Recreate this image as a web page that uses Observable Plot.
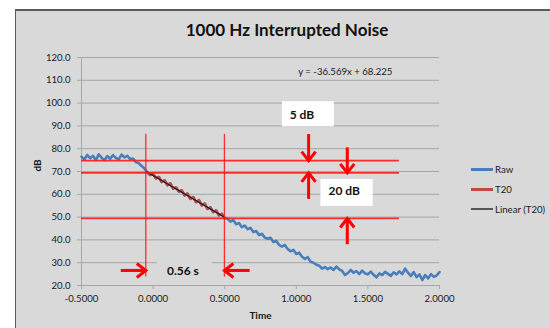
<!DOCTYPE html>
<html>
<head>
<meta charset="utf-8">
<script src="https://cdn.jsdelivr.net/npm/d3@7"></script>
<script src="https://cdn.jsdelivr.net/npm/@observablehq/plot@0.6"></script>
<style>
html, body { margin: 0; padding: 0; overflow: hidden; background: #fff; width: 550px; height: 328px; }
#wrap { position: relative; width: 550px; height: 328px; font-family: Lato, sans-serif; overflow: hidden; }
#bg { position: absolute; left: 15px; top: 9px; width: 620px; height: 400px; background: #d9d9d9; border-left: 1px solid #5a5a5a; border-top: 2px solid #5a5a5a; }
#title { position: absolute; left: 0; width: 574px; top: 19px; line-height: 22px; text-align: center; font-size: 17px; font-weight: 700; color: #111; }
#chart { position: absolute; left: 0; top: 0; }
.lg { position: absolute; left: 471px; height: 12px; display: flex; align-items: center; font-size: 9.6px; color: #1a1a1a; }
.lg .sw { display: inline-block; width: 22px; margin-right: 2px; }
</style>
</head>
<body>
<div id="wrap">
  <div id="bg"></div>
  <div id="title"></div>
  <div id="chart"></div>
  <div id="legend"></div>
</div>
<script>
// ---------- data ----------
const chartTitle = "1000 Hz Interrupted Noise";
const xLabel = "Time";
const yLabel = "dB";

const xTicks = [-0.5, 0, 0.5, 1, 1.5, 2];
const xTickLabels = ["-0.5000", "0.0000", "0.5000", "1.0000", "1.5000", "2.0000"];
const yTicks = [20, 30, 40, 50, 60, 70, 80, 90, 100, 110, 120];
const yTickLabels = ["20.0", "30.0", "40.0", "50.0", "60.0", "70.0", "80.0", "90.0", "100.0", "110.0", "120.0"];

const rawTime = [
  -0.50, -0.48, -0.46, -0.44, -0.42, -0.40, -0.38, -0.36, -0.34, -0.32,
  -0.30, -0.28, -0.26, -0.24, -0.22, -0.20, -0.18, -0.16, -0.14, -0.12,
  -0.10, -0.08, -0.06, -0.04, -0.02, 0.00, 0.02, 0.04, 0.06, 0.08,
  0.10, 0.12, 0.14, 0.16, 0.18, 0.20, 0.22, 0.24, 0.26, 0.28,
  0.30, 0.32, 0.34, 0.36, 0.38, 0.40, 0.42, 0.44, 0.46, 0.48,
  0.50, 0.52, 0.54, 0.56, 0.58, 0.60, 0.62, 0.64, 0.66, 0.68,
  0.70, 0.72, 0.74, 0.76, 0.78, 0.80, 0.82, 0.84, 0.86, 0.88,
  0.90, 0.92, 0.94, 0.96, 0.98, 1.00, 1.02, 1.04, 1.06, 1.08,
  1.10, 1.12, 1.14, 1.16, 1.18, 1.20, 1.22, 1.24, 1.26, 1.28,
  1.30, 1.32, 1.34, 1.36, 1.38, 1.40, 1.42, 1.44, 1.46, 1.48,
  1.50, 1.52, 1.54, 1.56, 1.58, 1.60, 1.62, 1.64, 1.66, 1.68,
  1.70, 1.72, 1.74, 1.76, 1.78, 1.80, 1.82, 1.84, 1.86, 1.88,
  1.90, 1.92, 1.94, 1.96, 1.98, 2.00
];
const rawDb = [
  76.5, 75.2, 77.3, 75.8, 76.9, 75.0, 77.5, 76.1, 74.9, 76.8,
  75.6, 77.2, 76.0, 75.3, 77.4, 76.2, 76.9, 75.4, 75.7, 74.1,
  73.6, 72.4, 71.3, 69.6, 68.5, 68.9, 67.0, 67.6, 65.4, 66.1,
  64.0, 64.8, 62.5, 63.0, 61.2, 61.7, 59.5, 60.3, 58.0, 58.8,
  56.6, 57.4, 55.1, 55.9, 53.6, 54.3, 52.2, 52.9, 50.8, 51.4,
  49.5, 49.3, 48.0, 48.7, 46.9, 47.4, 45.6, 46.3, 44.7, 45.3,
  43.4, 43.9, 42.1, 42.7, 41.0, 40.5, 40.9, 39.1, 39.6, 37.8,
  37.1, 37.8, 36.0, 35.0, 35.6, 33.8, 34.4, 32.6, 31.7, 32.4,
  30.4, 30.0, 29.1, 28.7, 27.4, 28.1, 27.2, 27.9, 26.8, 28.3,
  27.1, 26.4, 24.6, 25.4, 26.8, 25.6, 26.3, 25.0, 26.5, 25.3,
  24.9, 26.1, 24.7, 23.6, 25.3, 24.6, 26.0, 25.1, 24.2, 25.8,
  24.9, 26.2, 25.0, 27.4, 25.6, 24.2, 25.9, 23.7, 24.9, 22.4,
  24.6, 23.1, 25.0, 23.8, 24.4, 25.9
];

// T20 evaluation window and the fitted trendline
const t20Range = [-0.045, 0.505];
const linSlope = -36.569;
const linIntercept = 68.225;
const equationText = "y = -36.569x + 68.225";
const equationPos = [1.342, 113.7];

// Red reference lines (levels in dB, extent in s) and decay-time markers
const levelDb = [74.8, 69.4, 49.4];
const levelExtent = [-0.5, 1.72];
const markerTime = [-0.051, 0.498];
const markerExtent = [23.7, 86.3];

// Annotation arrows (tail x1,y1 -> tip x2,y2)
const arrowX1 = [1.086, 1.356, 1.086, 1.356, -0.226, 0.674];
const arrowY1 = [86.4, 80.6, 58.0, 38.1, 26.6, 26.6];
const arrowX2 = [1.086, 1.356, 1.086, 1.356, -0.051, 0.498];
const arrowY2 = [74.8, 69.4, 69.4, 49.4, 26.6, 26.6];

// Annotation boxes and their labels
const boxLabels = ["5 dB", "20 dB", "0.56 s"];
const boxX1 = [0.903, 1.172, 0.030];
const boxX2 = [1.266, 1.537, 0.414];
const boxY1 = [89.6, 54.7, 22.8];
const boxY2 = [100.6, 66.5, 30.2];
const boxFill = ["#ffffff", "#ffffff", "#d9d9d9"];
const labelX = [1.039, 1.335, 0.208];
const labelY = [94.8, 61.4, 26.4];

const seriesNames = ["Raw", "T20", "Linear (T20)"];
const seriesColors = ["#4a7ebb", "#be4b48", "#555555"];

// ---------- build ----------
const rawData = rawTime.map((t, i) => ({t, db: rawDb[i]}));
const t20Data = rawData.filter(d => d.t >= t20Range[0] && d.t <= t20Range[1]);
const linData = t20Range.map(t => ({t, db: linSlope * t + linIntercept}));
const levels = levelDb.map(db => ({db, x1: levelExtent[0], x2: levelExtent[1]}));
const markers = markerTime.map(t => ({t, y1: markerExtent[0], y2: markerExtent[1]}));
const arrows = arrowX1.map((x1, i) => {
  const x2 = arrowX2[i], y1 = arrowY1[i], y2 = arrowY2[i];
  const dir = x1 === x2 ? (y2 > y1 ? 0 : 180) : (x2 > x1 ? 90 : -90);
  return {x1, y1, x2, y2, dir};
});
const boxes = boxLabels.map((label, i) => ({label, x1: boxX1[i], x2: boxX2[i], y1: boxY1[i], y2: boxY2[i], fill: boxFill[i], lx: labelX[i], ly: labelY[i]}));

// chevron arrowhead with its tip at the origin, pointing "up"
const chevron = {
  draw(context) {
    context.moveTo(-7, 9);
    context.lineTo(0, 0);
    context.lineTo(7, 9);
  }
};

const grid = "#a6a6a6";
const chart = Plot.plot({
  width: 550,
  height: 328,
  marginLeft: 81,
  marginRight: 111,
  marginTop: 57,
  marginBottom: 43,
  style: {background: "transparent", fontFamily: "Lato, sans-serif", fontSize: "9.6px", color: "#1a1a1a", overflow: "visible"},
  x: {domain: [-0.5, 2]},
  y: {domain: [20, 120]},
  marks: [
    Plot.ruleY(yTicks, {stroke: grid, strokeWidth: 1}),
    Plot.ruleX([-0.5], {stroke: grid, strokeWidth: 1}),
    Plot.axisY({ticks: yTicks, tickFormat: d => yTickLabels[yTicks.indexOf(d)], tickSize: 4, tickPadding: 7, stroke: grid, label: null}),
    Plot.axisX({ticks: xTicks, tickFormat: d => xTickLabels[xTicks.indexOf(d)], tickSize: 4, tickPadding: 6, stroke: grid, label: null}),
    Plot.text([xLabel], {frameAnchor: "bottom", dy: 33, fontWeight: "bold", fontSize: 10, fill: "#1a1a1a"}),
    Plot.text([yLabel], {frameAnchor: "left", dx: -44, rotate: -90, fontWeight: "bold", fontSize: 10, fill: "#1a1a1a"}),
    Plot.line(rawData, {x: "t", y: "db", stroke: seriesColors[0], strokeWidth: 2.6, strokeLinejoin: "round"}),
    Plot.line(t20Data, {x: "t", y: "db", stroke: seriesColors[1], strokeWidth: 2.6, strokeLinejoin: "round"}),
    Plot.line(linData, {x: "t", y: "db", stroke: "#1a1a1a", strokeWidth: 1.2}),
    Plot.ruleY(levels, {y: "db", x1: "x1", x2: "x2", stroke: "#ff1a1a", strokeWidth: 1.7, strokeOpacity: 0.9}),
    Plot.ruleX(markers, {x: "t", y1: "y1", y2: "y2", stroke: "#ff1a1a", strokeWidth: 1.3, strokeOpacity: 0.9}),
    Plot.rect(boxes, {x1: "x1", x2: "x2", y1: "y1", y2: "y2", fill: "fill"}),
    Plot.text(boxes, {x: "lx", y: "ly", text: "label", fontWeight: "bold", fontSize: 12, fill: "#111"}),
    Plot.text([equationText], {x: () => equationPos[0], y: () => equationPos[1], fontSize: 9.6, fill: "#1a1a1a"}),
    Plot.link(arrows, {x1: "x1", y1: "y1", x2: "x2", y2: "y2", stroke: "#ff0000", strokeWidth: 3}),
    Plot.vector(arrows, {x: "x2", y: "y2", rotate: "dir", length: 1, anchor: "start", shape: chevron, stroke: "#ff0000", fill: "none", strokeWidth: 3, strokeLinejoin: "miter", strokeLinecap: "butt"})
  ]
});
document.getElementById("chart").appendChild(chart);
document.getElementById("title").textContent = chartTitle;

const legend = document.getElementById("legend");
const legendY = [163, 183, 203];
const legendThick = [3, 3, 2];
seriesNames.forEach((name, i) => {
  const row = document.createElement("div");
  row.className = "lg";
  row.style.top = legendY[i] + "px";
  const sw = document.createElement("span");
  sw.className = "sw";
  sw.style.height = legendThick[i] + "px";
  sw.style.background = seriesColors[i];
  const tx = document.createElement("span");
  tx.textContent = name;
  row.appendChild(sw);
  row.appendChild(tx);
  legend.appendChild(row);
});
</script>
</body>
</html>
